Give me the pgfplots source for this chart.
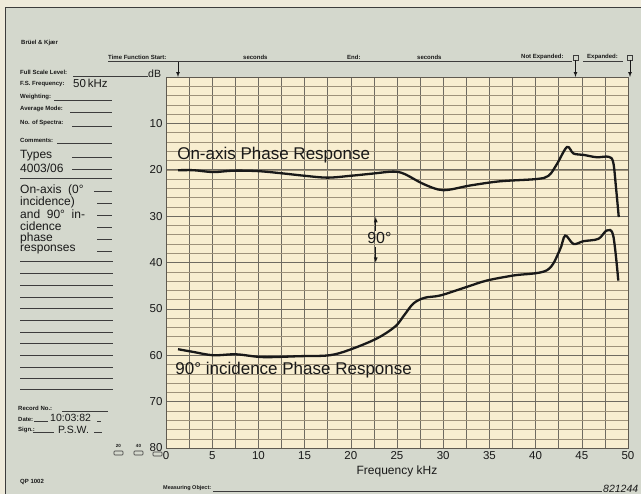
\documentclass[border=0pt]{standalone}
\usepackage{pgfplots}
\pgfplotsset{compat=1.18}
\usepackage{fontspec}
\setmainfont{Liberation Sans}
\definecolor{sheet}{RGB}{212,216,205}
\definecolor{paper}{RGB}{248,238,208}
\definecolor{margin}{RGB}{238,234,218}
\definecolor{ink}{RGB}{25,25,25}
\definecolor{gridmaj}{RGB}{95,90,80}
\definecolor{gridmin}{RGB}{158,146,122}
\definecolor{formline}{RGB}{60,60,60}
\newcommand\sm{\fontsize{6}{7}\selectfont\bfseries}
\newcommand\bg{\fontsize{12}{12}\selectfont}
\begin{document}
\begin{tikzpicture}
\useasboundingbox (0,0) rectangle (641pt,-494pt);
\begin{scope}[x=1pt,y=-1pt,every node/.style={inner sep=0pt,text=ink}]
\fill[margin] (0,0) rectangle (641,494);
\fill[sheet] (5,7) rectangle (641,494);
\draw[formline,line width=0.9pt] (641,7) -- (5,7) -- (5,494);
% header
\node[anchor=west] at (21,43) {\sm Brüel \& Kjær};
\draw[formline,line width=0.7pt] (108,61.5) -- (572,61.5);
\node[anchor=south west] at (108,60) {\sm Time Function Start:};
\node[anchor=south west] at (243,60) {\sm seconds};
\node[anchor=south west] at (347,60) {\sm End:};
\node[anchor=south west] at (417,60) {\sm seconds};
\node[anchor=south west] at (521,60) {\sm Not Expanded:};
\draw[formline,line width=0.7pt] (583,61.5) -- (623,61.5);
\node[anchor=south west] at (587,60) {\sm Expanded:};
\draw[formline,line width=0.7pt] (573,55) rectangle (578,60);
\draw[formline,line width=0.7pt] (627.5,55) rectangle (632.5,60);
\draw[ink,line width=0.7pt,-latex] (575.5,60) -- (575.5,77);
\draw[ink,line width=0.7pt,-latex] (630,60) -- (630,77);
\draw[ink,line width=0.7pt,-latex] (178,62) -- (178,77);
% left panel
\node[anchor=west] at (20,72) {\sm Full Scale Level:};
\draw[formline,line width=0.7pt] (73,76) -- (148,76);
\node[anchor=west] at (148,74) {\fontsize{10.5}{11}\selectfont dB};
\node[anchor=west] at (20,84) {\sm F.S. Frequency:};
\node[anchor=west] at (73,83.5) {\fontsize{11.5}{12}\selectfont 50\,kHz};
\node[anchor=west] at (20,97) {\sm Weighting:};
\draw[formline,line width=0.7pt] (54,100) -- (112,100);
\node[anchor=west] at (20,108.5) {\sm Average Mode:};
\draw[formline,line width=0.7pt] (70,112) -- (112,112);
\node[anchor=west] at (20,123) {\sm No. of Spectra:};
\draw[formline,line width=0.7pt] (72,126) -- (112,126);
\node[anchor=west] at (20,140) {\sm Comments:};
\draw[formline,line width=0.7pt] (57,143) -- (112,143);
\node[anchor=west] at (20,156) {\bg Types};
\draw[formline,line width=0.7pt] (72,157) -- (112,157);
\node[anchor=west] at (20,168) {\bg 4003/06};
\draw[formline,line width=0.7pt] (72,169) -- (112,169);
\draw[formline,line width=0.7pt] (20,178) -- (112,178);
\node[anchor=west] at (20,190) {\bg On-axis\ \ (0°};
\draw[formline,line width=0.7pt] (94,191) -- (112,191);
\node[anchor=west] at (20,202) {\bg incidence)};
\draw[formline,line width=0.7pt] (97,203) -- (112,203);
\node[anchor=west] at (20,214) {\bg and\ \ 90°\ \ in-};
\draw[formline,line width=0.7pt] (97,215) -- (112,215);
\node[anchor=west] at (20,226) {\bg cidence};
\draw[formline,line width=0.7pt] (97,227) -- (112,227);
\node[anchor=west] at (20,238) {\bg phase};
\draw[formline,line width=0.7pt] (97,239) -- (112,239);
\node[anchor=west] at (20,250) {\bg responses};
\draw[formline,line width=0.7pt] (97,251) -- (112,251);
\foreach \yy in {261,273,285,297,308,320,332,343,355,367,378,389}
  \draw[formline,line width=0.8pt] (20,\yy) -- (113,\yy);
\node[anchor=west] at (18,408) {\sm Record No.:};
\draw[formline,line width=0.7pt] (62,411) -- (108,411);
\node[anchor=west] at (18,419) {\sm Date:};
\draw[formline,line width=0.7pt] (34,421) -- (48,421);
\node[anchor=west] at (50,418) {\fontsize{10.5}{11}\selectfont 10:03:82};
\draw[formline,line width=0.7pt] (97,421) -- (101,421);
\node[anchor=west] at (18,430) {\sm Sign.:};
\draw[formline,line width=0.7pt] (33,432) -- (54,432);
\node[anchor=west] at (58,429.5) {\fontsize{10.5}{11}\selectfont P.S.W.};
\draw[formline,line width=0.7pt] (94,432) -- (102,432);
% range boxes
\node at (118.5,445.5) {\fontsize{4.5}{5}\selectfont\bfseries 20};
\node at (138.5,445.5) {\fontsize{4.5}{5}\selectfont\bfseries 40};
\draw[formline,line width=0.6pt,rounded corners=0.8pt] (114,451) rectangle (123,455);
\draw[formline,line width=0.6pt,rounded corners=0.8pt] (134,451) rectangle (143,455);
\draw[formline,line width=0.6pt,rounded corners=0.8pt] (153,452) rectangle (162,456);
% bottom
\node[anchor=west] at (20,482) {\sm QP 1002};
\node[anchor=west] at (163,488.5) {\fontsize{5.5}{6}\selectfont\bfseries Measuring Object:};
\draw[formline,line width=0.7pt] (213,491) -- (602,491);
\node[anchor=west] at (603,488.5) {\fontsize{10.5}{11}\selectfont\itshape 821244};
\node at (397,471.5) {\fontsize{12}{13}\selectfont Frequency kHz};
\end{scope}
\begin{axis}[
  at={(166pt,-77pt)}, anchor=north west,
  scale only axis, width=462pt, height=371pt,
  xmin=0, xmax=50, ymin=0, ymax=80, y dir=reverse,
  axis background/.style={fill=paper},
  axis line style={gridmaj,line width=0.9pt},
  xtick={0,2.5,...,50},
  xticklabels={0,,5,,10,,15,,20,,25,,30,,35,,40,,45,,50},
  ytick={10,20,...,80},
  minor ytick={0,2,...,80},
  grid=both,
  major grid style={gridmaj!90,line width=0.55pt},
  minor grid style={gridmin,line width=0.4pt},
  tick style={draw=none},
  ticklabel style={font=\fontsize{11.5}{12}\selectfont, text=ink},
  /pgf/number format/assume math mode=true,
  clip=false,
]
\addplot[ink, line width=2.3pt, smooth, tension=0.55] coordinates {
(1.3,20.1) (3,20.1) (5.1,20.5) (7.3,20.2) (10,20.3) (12.7,20.8) (15,21.3)
(17.5,21.7) (20,21.3) (22.5,20.8) (24.6,20.4) (25.8,20.9) (27.9,23.1)
(30,24.4) (32.9,23.4) (36.1,22.5) (40.1,22.0) (41.4,21.3) (42.3,18.8)
(43.4,15.1) (44.1,16.5) (45.2,16.8) (46.6,17.3) (47.9,17.2) (48.4,18.4)
(48.7,23.8) (49.0,30.2)};
\addplot[ink, line width=2.3pt, smooth, tension=0.55] coordinates {
(1.3,58.7) (3,59.3) (5.1,60.0) (7.6,59.8) (10.5,60.4) (14.5,60.2) (17.7,60.0)
(19.9,58.8) (22.8,56.4) (24.8,53.8) (25.8,51.3) (26.8,48.8) (28,47.6) (29.7,47.1)
(32.5,45.3) (34.7,43.9) (37.6,42.8) (41.2,41.7) (42.6,37.4) (43.2,34.2)
(44.1,36.0) (45.2,35.4) (46.8,34.9) (47.7,33.1) (48.4,34.2) (48.95,43.9)};
\node[anchor=west, inner sep=0pt, text=ink, font=\fontsize{17}{18}\selectfont] at (axis cs:1.2,16.8) {On-axis Phase Response};
\node[anchor=west, inner sep=0pt, text=ink, font=\fontsize{17}{18}\selectfont] at (axis cs:1.0,63.3) {90°\ incidence Phase Response};
\node[inner sep=0pt, text=ink, font=\fontsize{16}{17}\selectfont] at (axis cs:23.1,34.8) {90°};
\draw[ink, line width=0.8pt, -latex] (axis cs:22.7,33.2) -- (axis cs:22.7,30.2);
\draw[ink, line width=0.8pt, -latex] (axis cs:22.7,36.6) -- (axis cs:22.7,40.0);
\end{axis}
\end{tikzpicture}
\end{document}
